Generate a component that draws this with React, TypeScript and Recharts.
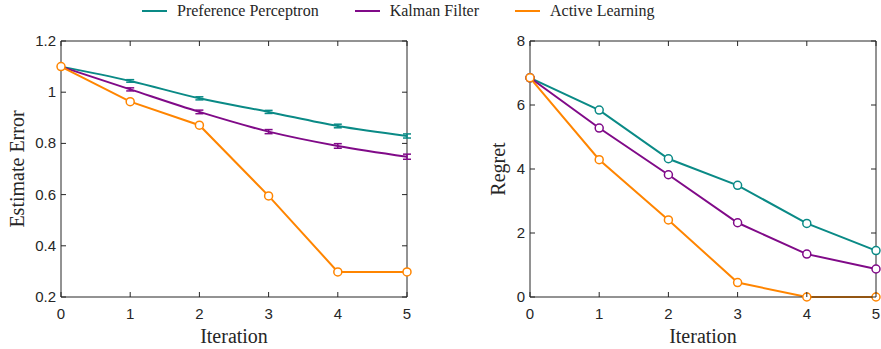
import React from 'react';
import { LineChart, Line, XAxis, YAxis, ErrorBar, ReferenceLine } from 'recharts';

const iterations = [0, 1, 2, 3, 4, 5];

const errPerceptron = [1.1, 1.044, 0.976, 0.923, 0.868, 0.829];
const errPerceptronSd = [0, 0.005, 0.006, 0.006, 0.007, 0.008];
const errKalman = [1.1, 1.011, 0.923, 0.846, 0.79, 0.748];
const errKalmanSd = [0, 0.006, 0.007, 0.008, 0.009, 0.01];
const errActive = [1.1, 0.963, 0.871, 0.595, 0.298, 0.298];

const regPerceptron = [6.85, 5.84, 4.32, 3.49, 2.3, 1.45];
const regKalman = [6.85, 5.28, 3.82, 2.32, 1.34, 0.875];
const regActive = [6.85, 4.29, 2.41, 0.45, 0, 0];

const errTicks = [0.2, 0.4, 0.6, 0.8, 1, 1.2];
const regTicks = [0, 2, 4, 6, 8];

const TEAL = '#0a8a86';
const PURPLE = '#800a88';
const ORANGE = '#ff8500';
const AXIS = '#262626';
const SERIF = '"Liberation Serif", "DejaVu Serif", serif';
const SANS = '"Liberation Sans", Arial, sans-serif';

const H = 349;
const TOP = 41;
const XAX_H = 48;
const BOTTOM_M = 4;
const RIGHT_M = 5;
const PLOT_BOTTOM = H - BOTTOM_M - XAX_H;
const TICK_LEN = 5;

const errData = iterations.map((x, i) => ({
  x,
  pp: errPerceptron[i],
  ppSd: errPerceptronSd[i],
  kf: errKalman[i],
  kfSd: errKalmanSd[i],
  al: errActive[i],
}));

const regData = iterations.map((x, i) => ({
  x,
  pp: regPerceptron[i],
  kf: regKalman[i],
  al: regActive[i],
}));

const dotStyle = (c: string) => ({ r: 4, fill: '#fff', stroke: c, strokeWidth: 1.5 });

// x tick: label below, plus inward tick marks at bottom and top of the box
const XTick = (props: any) => {
  const { x, y, payload } = props;
  return (
    <g>
      <line x1={x} x2={x} y1={PLOT_BOTTOM} y2={PLOT_BOTTOM - TICK_LEN} stroke={AXIS} />
      <line x1={x} x2={x} y1={TOP} y2={TOP + TICK_LEN} stroke={AXIS} />
      <text x={x} y={y} dy={17} textAnchor="middle" fontFamily={SANS} fontSize={15} fill={AXIS}>
        {payload.value}
      </text>
    </g>
  );
};

const makeYTick = (left: number, right: number) => (props: any) => {
  const { x, y, payload } = props;
  return (
    <g>
      <line x1={left} x2={left + TICK_LEN} y1={y} y2={y} stroke={AXIS} />
      <line x1={right} x2={right - TICK_LEN} y1={y} y2={y} stroke={AXIS} />
      <text x={x} y={y} dy={5} textAnchor="end" fontFamily={SANS} fontSize={15} fill={AXIS}>
        {payload.value}
      </text>
    </g>
  );
};

function Panel({
  data,
  domain,
  ticks,
  ylabel,
  yWidth,
  labelOffset,
  errors,
  width,
}: {
  data: any[];
  domain: [number, number];
  ticks: number[];
  ylabel: string;
  yWidth: number;
  labelOffset: number;
  errors: boolean;
  width: number;
}) {
  const frame = { stroke: AXIS, strokeWidth: 1 };
  const YTick = makeYTick(yWidth, width - RIGHT_M);
  return (
    <LineChart
      width={width}
      height={H}
      data={data}
      margin={{ top: TOP, right: RIGHT_M, bottom: BOTTOM_M, left: 0 }}
    >
      <XAxis
        dataKey="x"
        type="number"
        domain={[0, 5]}
        ticks={iterations}
        height={XAX_H}
        tickLine={false}
        tickSize={0}
        tickMargin={5}
        axisLine={frame}
        tick={<XTick />}
        label={{ value: 'Iteration', position: 'insideBottom', offset: 2, style: { fontFamily: SERIF, fontSize: 20, fill: AXIS } }}
      />
      <YAxis
        type="number"
        domain={domain}
        ticks={ticks}
        width={yWidth}
        tickLine={false}
        tickSize={0}
        tickMargin={5}
        axisLine={frame}
        tick={<YTick />}
        label={{ value: ylabel, angle: -90, position: 'insideLeft', offset: labelOffset, style: { fontFamily: SERIF, fontSize: 20, fill: AXIS, textAnchor: 'middle' } }}
      />
      <ReferenceLine y={domain[1]} stroke={AXIS} strokeWidth={1} />
      <ReferenceLine x={5} stroke={AXIS} strokeWidth={1} />
      <Line
        type={errors ? 'monotone' : 'linear'}
        dataKey="pp"
        stroke={TEAL}
        strokeWidth={2}
        dot={errors ? false : dotStyle(TEAL)}
        isAnimationActive={false}
      >
        {errors && <ErrorBar dataKey="ppSd" direction="y" width={4} stroke={TEAL} strokeWidth={1.5} />}
      </Line>
      <Line
        type={errors ? 'monotone' : 'linear'}
        dataKey="kf"
        stroke={PURPLE}
        strokeWidth={2}
        dot={errors ? false : dotStyle(PURPLE)}
        isAnimationActive={false}
      >
        {errors && <ErrorBar dataKey="kfSd" direction="y" width={4} stroke={PURPLE} strokeWidth={1.5} />}
      </Line>
      <Line
        type="linear"
        dataKey="al"
        stroke={ORANGE}
        strokeWidth={2}
        dot={dotStyle(ORANGE)}
        isAnimationActive={false}
      />
    </LineChart>
  );
}

const legendItems = [
  { name: 'Preference Perceptron', color: TEAL },
  { name: 'Kalman Filter', color: PURPLE },
  { name: 'Active Learning', color: ORANGE },
];

export default function App() {
  return (
    <div style={{ position: 'absolute', left: 0, top: 0, width: 881, height: H, background: '#fff', overflow: 'hidden' }}>
      <div
        style={{
          position: 'absolute',
          top: -1,
          left: 142,
          height: 24,
          display: 'flex',
          alignItems: 'center',
          fontFamily: SERIF,
          fontSize: 16,
          color: AXIS,
        }}
      >
        {legendItems.map((it, i) => (
          <div key={it.name} style={{ display: 'flex', alignItems: 'center', marginRight: i < 2 ? 36 : 0 }}>
            <div style={{ width: 25, height: 2, background: it.color, marginRight: 10 }} />
            <span>{it.name}</span>
          </div>
        ))}
      </div>
      <div style={{ position: 'absolute', left: 0, top: 0 }}>
        <Panel data={errData} domain={[0.2, 1.2]} ticks={errTicks} ylabel="Estimate Error" yWidth={61} labelOffset={17} errors width={412} />
      </div>
      <div style={{ position: 'absolute', left: 460, top: 0 }}>
        <Panel data={regData} domain={[0, 8]} ticks={regTicks} ylabel="Regret" yWidth={70} labelOffset={38} errors={false} width={421} />
      </div>
    </div>
  );
}
